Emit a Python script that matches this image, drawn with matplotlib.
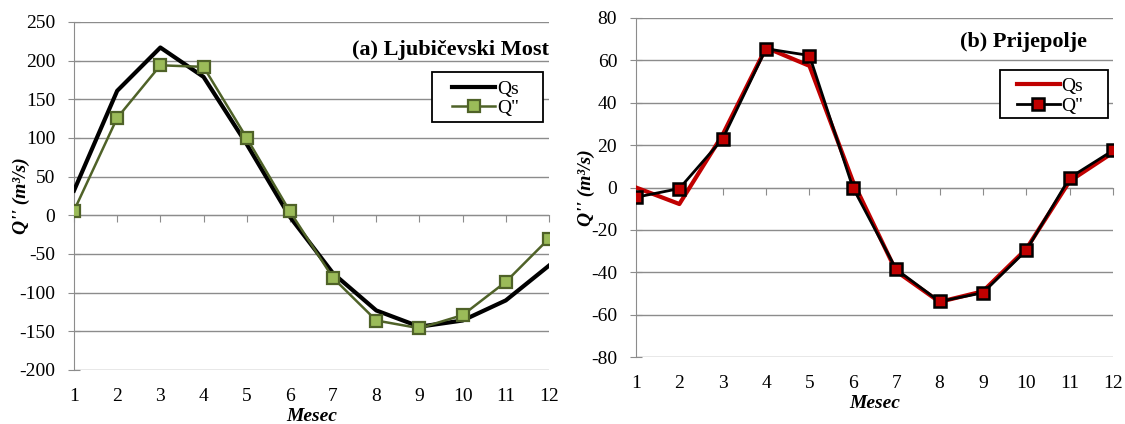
import matplotlib
matplotlib.use("Agg")
import matplotlib.pyplot as plt
from matplotlib.patches import Rectangle

plt.rcParams["font.family"] = ["Liberation Serif", "DejaVu Serif"]
plt.rcParams["axes.unicode_minus"] = False

months = list(range(1, 13))

# (a) Ljubicevski Most
lm_qs = [32, 161, 217, 179, 92, -2, -75, -123, -144, -136, -110, -65]
lm_q2 = [6, 126, 194, 192, 100, 5, -81, -136, -146, -129, -86, -30]
lm_yticks = list(range(-200, 251, 50))

# (b) Prijepolje
pr_qs = [0, -7.8, 25, 66, 57.4, 3, -39.5, -54, -49, -29, 3, 16.5]
pr_q2 = [-4.6, -0.5, 23, 65.5, 62.3, 0, -38.6, -53.8, -49.7, -29.7, 4.6, 17.5]
pr_yticks = list(range(-80, 81, 20))

GRID = "#8c8c8c"
FS = 14


def style_axes(ax, yticks, title, title_xy, ylab_x):
    ax.set_xlim(1, 12)
    ax.set_ylim(yticks[0], yticks[-1])
    ax.set_yticks(yticks)
    ax.yaxis.grid(True, color=GRID, lw=1.0)
    ax.set_axisbelow(True)
    for s in ("top", "right"):
        ax.spines[s].set_visible(False)
    ax.spines["left"].set_color(GRID)
    ax.spines["bottom"].set_position(("data", 0))
    ax.spines["bottom"].set_color(GRID)
    ax.set_xticks(months)
    ax.tick_params(axis="x", labelbottom=False, length=5, direction="out", color=GRID)
    ax.tick_params(axis="y", length=9, direction="inout", color=GRID, labelsize=FS, pad=9)
    sec = ax.secondary_xaxis("bottom")
    sec.set_xticks(months)
    sec.set_xticklabels([str(m) for m in months])
    sec.tick_params(length=0, labelsize=FS, pad=13)
    sec.spines["bottom"].set_visible(False)
    sec.set_xlabel("Mesec", fontsize=FS, fontweight="bold", fontstyle="italic", labelpad=2)
    ax.set_ylabel("Q'' (m³/s)", fontsize=FS, fontweight="bold", fontstyle="italic")
    ax.yaxis.set_label_coords(ylab_x, 0.5)
    ax.text(title_xy[0], title_xy[1], title, transform=ax.transAxes, ha="right", va="center",
            fontsize=16, fontweight="bold")


def add_legend(ax, box, anchor):
    # box: (x0, y0, x1, y1) in axes fraction
    ax.add_patch(Rectangle((box[0], box[1]), box[2] - box[0], box[3] - box[1],
                           transform=ax.transAxes, facecolor="white", edgecolor="black",
                           lw=1.3, zorder=5))
    leg = ax.legend(loc="upper left", bbox_to_anchor=anchor, frameon=False,
                    fontsize=FS, handlelength=2.2, handletextpad=0.1, borderpad=0.3,
                    labelspacing=0.1, borderaxespad=0)
    leg.set_zorder(6)
    return leg


fig = plt.figure(figsize=(11.25, 4.24), dpi=100)

ax1 = fig.add_axes([74 / 1125, 1 - 370 / 424, (549 - 74) / 1125, (370 - 22) / 424])
ax1.plot(months, lm_qs, color="black", lw=3.0, label="Qs", zorder=3)
ax1.plot(months, lm_q2, color="#4f6228", lw=1.8, marker="s", markersize=8,
         markerfacecolor="#9bbb59", markeredgecolor="#4f6228", markeredgewidth=1.6,
         label='Q"', zorder=4)
style_axes(ax1, lm_yticks, "(a) Ljubičevski Most", (1.0, 0.92), -0.093)
add_legend(ax1, (0.754, 0.713, 0.987, 0.856), (0.784, 0.85))

ax2 = fig.add_axes([636 / 1125, 1 - 357 / 424, (1113 - 636) / 1125, (357 - 18) / 424])
ax2.plot(months, pr_qs, color="#c00000", lw=3.0, label="Qs", zorder=3)
ax2.plot(months, pr_q2, color="black", lw=2.0, marker="s", markersize=8,
         markerfacecolor="#c00000", markeredgecolor="black", markeredgewidth=1.8,
         label='Q"', zorder=4)
style_axes(ax2, pr_yticks, "(b) Prijepolje", (0.945, 0.93), -0.086)
add_legend(ax2, (0.763, 0.705, 0.990, 0.847), (0.786, 0.842))

fig.savefig("out.png", dpi=100)
